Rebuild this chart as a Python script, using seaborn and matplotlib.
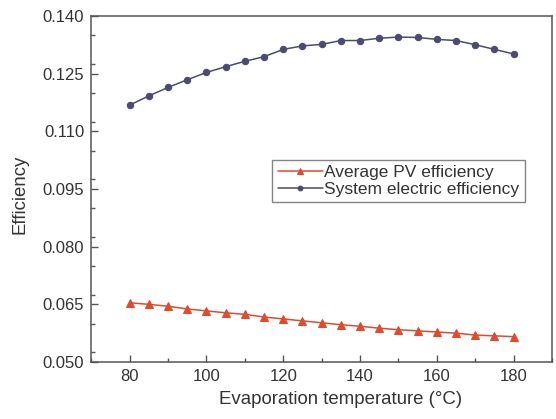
import matplotlib
matplotlib.use('Agg')
import matplotlib.pyplot as plt
import seaborn as sns
import numpy as np
import pandas as pd
from matplotlib.ticker import MultipleLocator

temperature = [80, 85, 90, 95, 100, 105, 110, 115, 120, 125, 130,
               135, 140, 145, 150, 155, 160, 165, 170, 175, 180]
pv_efficiency = [0.0654, 0.0650, 0.0645, 0.0638, 0.0633, 0.0628, 0.0624,
                 0.0617, 0.0612, 0.0607, 0.0602, 0.0597, 0.0593, 0.0588,
                 0.0584, 0.0581, 0.0578, 0.0575, 0.0570, 0.0568, 0.0566]
system_efficiency = [0.1168, 0.1192, 0.1214, 0.1234, 0.1253, 0.1268, 0.1282,
                     0.1294, 0.1313, 0.1322, 0.1326, 0.1336, 0.1336, 0.1342,
                     0.1345, 0.1344, 0.1339, 0.1336, 0.1325, 0.1313, 0.1301]
series_names = ['Average PV efficiency', 'System electric efficiency']
y_ticks = [0.050, 0.065, 0.080, 0.095, 0.110, 0.125, 0.140]

sns.set_style('ticks')
plt.rcParams['font.family'] = ['Liberation Sans', 'DejaVu Sans']

text_color = '#333333'
red = '#e04b2e'
navy = '#4a4a72'

fig = plt.figure(figsize=(5.56, 4.19), dpi=100)
ax = fig.add_axes([0.164, 0.136, 0.829, 0.826])

sns.lineplot(x=temperature, y=pv_efficiency, ax=ax, color=red, marker='^',
             markersize=5.5, markeredgecolor=red, linewidth=1.1, label=series_names[0])
sns.lineplot(x=temperature, y=system_efficiency, ax=ax, color=navy, marker='o',
             markersize=4.6, markeredgecolor=navy, linewidth=1.1, label=series_names[1])

ax.set_xlim(70, 190)
ax.set_ylim(0.050, 0.140)
ax.set_xticks([80, 100, 120, 140, 160, 180])
ax.xaxis.set_minor_locator(MultipleLocator(10))
ax.set_yticks(y_ticks)
ax.set_yticklabels([f'{v:.3f}' for v in y_ticks])
ax.yaxis.set_minor_locator(MultipleLocator(0.0075))

ax.tick_params(which='both', direction='in', colors='#555555', labelcolor=text_color,
               labelsize=12, top=False, right=False)
ax.tick_params(which='major', length=5, width=1, pad=5)
ax.tick_params(which='minor', length=3, width=1)
for spine in ax.spines.values():
    spine.set_visible(True)
    spine.set_color('#555555')
    spine.set_linewidth(1.1)

ax.set_xlabel('Evaporation temperature (°C)', fontsize=13.4, color=text_color)
ax.set_ylabel('Efficiency', fontsize=13.4, color=text_color)
ax.xaxis.set_label_coords(0.54, -0.085)
ax.yaxis.set_label_coords(-0.135, 0.486)

leg = ax.legend(loc='upper left', bbox_to_anchor=(0.393, 0.584), fontsize=12.5,
                frameon=True, fancybox=False, handlelength=2.6, handletextpad=0.1,
                borderpad=0.3, labelspacing=0.1, borderaxespad=0, markerscale=0.75)
leg.get_frame().set_edgecolor('#666666')
leg.get_frame().set_linewidth(1.0)
for t in leg.get_texts():
    t.set_color(text_color)

fig.savefig('out.png', dpi=100)
